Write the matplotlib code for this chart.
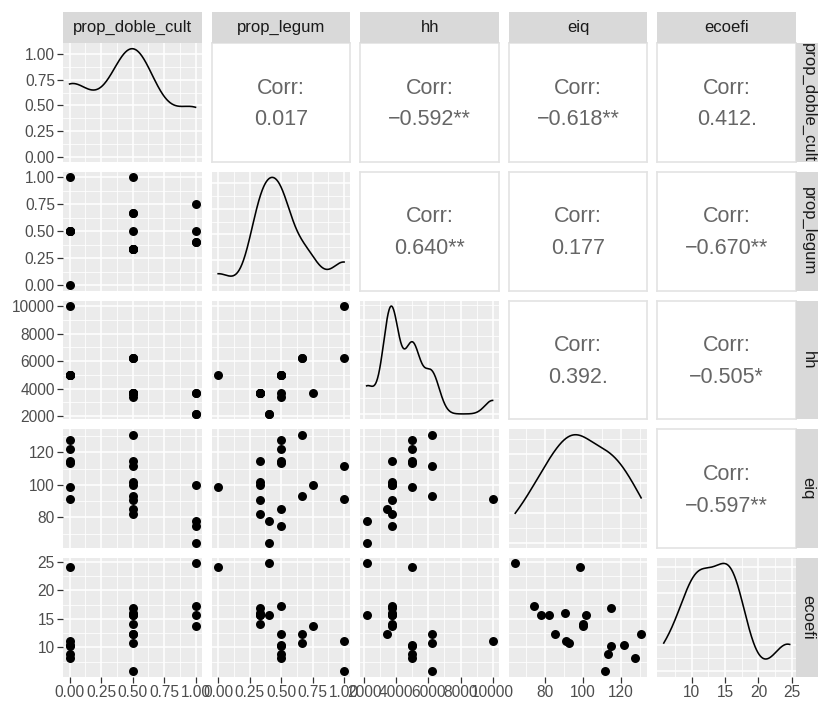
import numpy as np
import matplotlib.pyplot as plt
from matplotlib.ticker import MaxNLocator

plt.rcParams['font.family'] = ['Liberation Sans', 'DejaVu Sans']

# data (19 rows)
var_names = ['prop_doble_cult', 'prop_legum', 'hh', 'eiq', 'ecoefi']
prop_doble_cult = [0, 0, 0, 0, 0, 0, 0.5, 0.5, 0.5, 0.5, 0.5, 0.5, 0.5, 0.5, 0.5, 1, 1, 1, 1]
prop_legum = [1.0, 0.0, 0.5, 0.5, 0.5, 0.5, 1.0, 0.667, 0.667, 0.5, 0.333, 0.333, 0.333, 0.333, 0.333,
              0.75, 0.5, 0.4, 0.4]
hh = [10000, 5000, 5000, 5000, 5000, 5000, 6200, 6200, 6200, 3400, 3700, 3700, 3700, 3700, 3700,
      3700, 3700, 2150, 2150]
eiq = [91.2, 98.4, 127.5, 121.8, 114.8, 113.6, 111.8, 130.8, 92.9, 85.3, 114.8, 101.7, 100.2, 90.6, 82.2,
       100.0, 74.5, 78.0, 64.5]
ecoefi = [11.1, 24.1, 8.1, 10.4, 10.2, 8.9, 5.8, 12.4, 10.7, 12.4, 16.9, 15.6, 14.1, 16.1, 15.7,
          13.8, 17.2, 15.7, 24.7]
data = [prop_doble_cult, prop_legum, hh, eiq, ecoefi]

# axis breaks / labels per variable
breaks = [[0, 0.25, 0.5, 0.75, 1.0], [0, 0.25, 0.5, 0.75, 1.0],
          [2000, 4000, 6000, 8000, 10000], [80, 100, 120], [10, 15, 20, 25]]
break_labels = [['0.00', '0.25', '0.50', '0.75', '1.00'], ['0.00', '0.25', '0.50', '0.75', '1.00'],
                ['2000', '4000', '6000', '8000', '10000'], ['80', '100', '120'], ['10', '15', '20', '25']]
dens_breaks = [0, 0.25, 0.5, 0.75, 1.0]
dens_labels = ['0.00', '0.25', '0.50', '0.75', '1.00']

# correlation text in the upper panels
corr_text = {(0, 1): '0.017', (0, 2): '\u22120.592**', (0, 3): '\u22120.618**', (0, 4): '0.412.',
             (1, 2): '0.640**', (1, 3): '0.177', (1, 4): '\u22120.670**',
             (2, 3): '0.392.', (2, 4): '\u22120.505*', (3, 4): '\u22120.597**'}


def kde(x):
    # gaussian density, bw.nrd0 like R, evaluated over the data range
    x = np.asarray(x, float)
    n = len(x)
    q75, q25 = np.percentile(x, [75, 25])
    lo = min(x.std(ddof=1), (q75 - q25) / 1.34)
    bw = 0.9 * lo * n ** -0.2
    g = np.linspace(x.min(), x.max(), 512)
    d = np.exp(-0.5 * ((g[:, None] - x[None, :]) / bw) ** 2).sum(1) / (n * bw * np.sqrt(2 * np.pi))
    return g, d


def minors(major, lim):
    major = list(major)
    step = major[1] - major[0]
    m = [major[0] - step / 2] + [(a + b) / 2 for a, b in zip(major[:-1], major[1:])] + [major[-1] + step / 2]
    return [v for v in m if lim[0] <= v <= lim[1]]


def limits(x):
    r = max(x) - min(x)
    return (min(x) - 0.05 * r, max(x) + 0.05 * r)


W, H = 818, 702
fig = plt.figure(figsize=(W / 100, H / 100), dpi=100)
L, R, T, B, gap = 63.3, 796, 43.3, 676.7, 10
pw = (R - L - 4 * gap) / 5
ph = (B - T - 4 * gap) / 5
tick_col = '#333333'
lab_col = '#4D4D4D'

for i in range(5):
    for j in range(5):
        x0 = L + j * (pw + gap)
        y0 = T + i * (ph + gap)
        ax = fig.add_axes([x0 / W, 1 - (y0 + ph) / H, pw / W, ph / H])
        if i < j:
            ax.set_facecolor('white')
            for s in ax.spines.values():
                s.set_color('#E3E3E3')
                s.set_linewidth(1.2)
            ax.set_xticks([])
            ax.set_yticks([])
            ax.text(0.5, 0.623, 'Corr:', ha='center', va='center', fontsize=15.5, color='#666666',
                    transform=ax.transAxes)
            ax.text(0.5, 0.354, corr_text[(i, j)], ha='center', va='center', fontsize=15.5,
                    color='#666666', transform=ax.transAxes)
        else:
            ax.set_facecolor('#EBEBEB')
            for s in ax.spines.values():
                s.set_visible(False)
            xl = limits(data[j])
            ax.set_xlim(xl)
            ax.set_xticks(breaks[j])
            ax.set_xticks(minors(breaks[j], xl), minor=True)
            if i == j:
                g, d = kde(data[j])
                ax.plot(g, d, color='black', lw=1.15)
                yl = (-0.05 * d.max(), 1.05 * d.max())
                ax.set_ylim(yl)
                if i == 0:
                    yb = dens_breaks
                else:
                    yb = [v for v in MaxNLocator(nbins=5, steps=[1, 2, 2.5, 5, 10]).tick_values(0, d.max())
                          if yl[0] <= v <= yl[1]]
            else:
                ax.scatter(data[j], data[i], s=42, color='black', linewidths=0, zorder=3)
                yl = limits(data[i])
                ax.set_ylim(yl)
                yb = breaks[i]
            ax.set_yticks(yb)
            ax.set_yticks(minors(yb, yl), minor=True)
            ax.grid(which='major', color='white', lw=1.1)
            ax.grid(which='minor', color='white', lw=0.55)
            ax.set_axisbelow(True)
            ax.tick_params(which='minor', length=0)
            ax.tick_params(which='major', length=0, labelleft=False, labelbottom=False)
            if j == 0:
                ax.tick_params(axis='y', which='major', length=4, width=0.9, color=tick_col,
                               labelleft=True, labelsize=11.2, labelcolor=lab_col, pad=2)
                ax.set_yticklabels(dens_labels if i == 0 else break_labels[i])
            if i == 4:
                ax.tick_params(axis='x', which='major', length=4, width=0.9, color=tick_col,
                               labelbottom=True, labelsize=11.2, labelcolor=lab_col, pad=2)
                ax.set_xticklabels(break_labels[j])

# strips
for j in range(5):
    x0 = L + j * (pw + gap)
    sax = fig.add_axes([x0 / W, 1 - T / H, pw / W, 31.6 / H])
    sax.set_facecolor('#D9D9D9')
    sax.set_xticks([]); sax.set_yticks([])
    for s in sax.spines.values():
        s.set_visible(False)
    sax.text(0.5, 0.5, var_names[j], ha='center', va='center', fontsize=12, color='#1A1A1A',
             transform=sax.transAxes)
for i in range(5):
    y0 = T + i * (ph + gap)
    sax = fig.add_axes([R / W, 1 - (y0 + ph) / H, (W - R) / W, ph / H])
    sax.set_facecolor('#D9D9D9')
    sax.set_xticks([]); sax.set_yticks([])
    for s in sax.spines.values():
        s.set_visible(False)
    sax.text(0.55, 0.5, var_names[i], ha='center', va='center', fontsize=12, color='#1A1A1A',
             rotation=-90, transform=sax.transAxes)

fig.savefig('out.png', dpi=100)
